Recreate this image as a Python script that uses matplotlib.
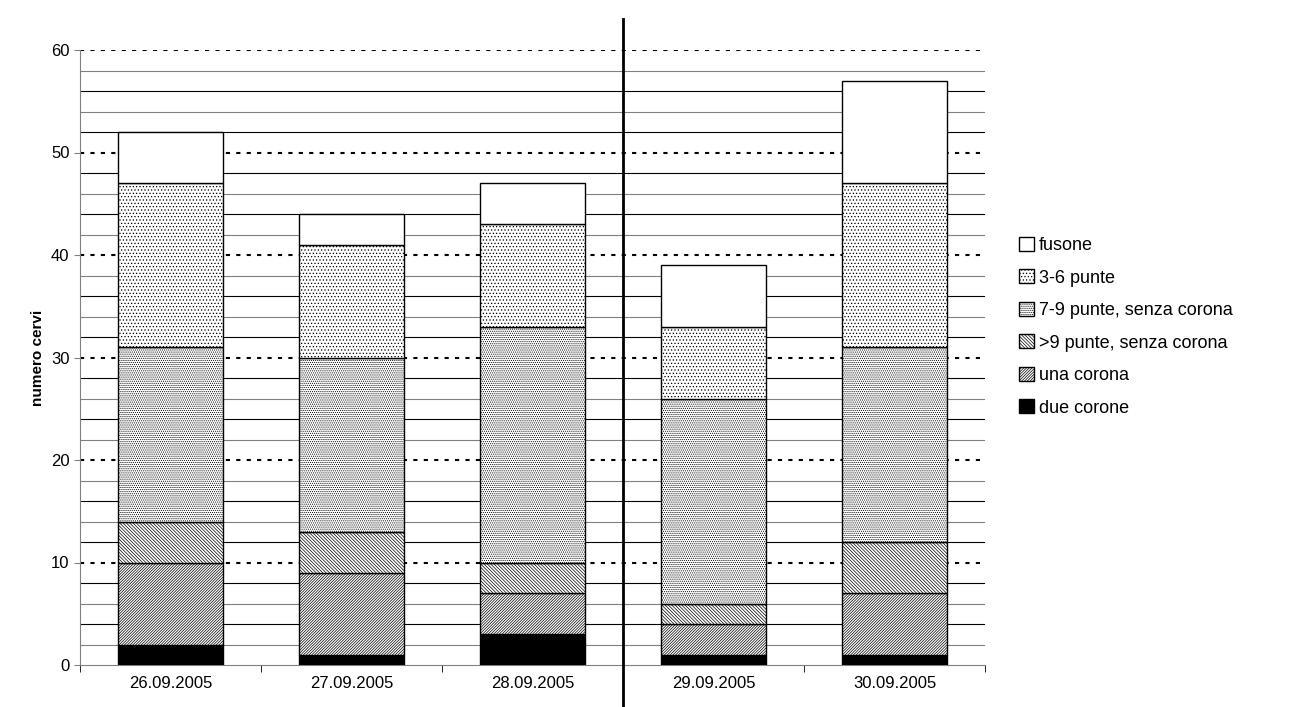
import matplotlib
matplotlib.use("Agg")
import matplotlib.pyplot as plt
import numpy as np

plt.rcParams['font.family'] = ['Liberation Sans', 'DejaVu Sans']
plt.rcParams['hatch.linewidth'] = 0.5

dates = ["26.09.2005", "27.09.2005", "28.09.2005", "29.09.2005", "30.09.2005"]
series_names = ["due corone", "una corona", ">9 punte, senza corona",
                "7-9 punte, senza corona", "3-6 punte", "fusone"]
due_corone = [2, 1, 3, 1, 1]
una_corona = [8, 8, 4, 3, 6]
oltre_9 = [4, 4, 3, 2, 5]
punte_7_9 = [17, 17, 23, 20, 19]
punte_3_6 = [16, 11, 10, 7, 16]
fusone = [5, 3, 4, 6, 10]
values = [due_corone, una_corona, oltre_9, punte_7_9, punte_3_6, fusone]
hatches = [None, '/' * 12, '\\' * 10, '.' * 8, '.' * 5, None]
faces = ['black', 'white', 'white', 'white', 'white', 'white']

fig = plt.figure(figsize=(13.08, 7.07), dpi=100)
ax = fig.add_axes([80/1308, 42/707, 905/1308, 615/707])
x = np.arange(len(dates))
bottom = np.zeros(len(dates))
handles = []
for name, v, h, fc in zip(series_names, values, hatches, faces):
    b = ax.bar(x, v, 0.58, bottom=bottom, color=fc, edgecolor='black',
               hatch=h, linewidth=1.0, label=name, zorder=3)
    handles.append(b)
    bottom += np.array(v)

for yv in range(2, 61, 2):
    if yv % 10 == 0:
        ax.axhline(yv, color='black', lw=1.5, ls=(0, (2, 3)), zorder=1)
    else:
        ax.axhline(yv, color='black' if yv % 4 == 0 else '#808080', lw=0.8, zorder=1)

ax.set_xlim(-0.5, 4.5)
ax.set_ylim(0, 60)
ax.set_yticks(range(0, 61, 10))
ax.set_xticks(x)
ax.set_xticklabels(dates)
ax.tick_params(labelsize=12, length=4, color='#808080')
ax.set_xticks(np.arange(-0.5, 4.6, 1), minor=True)
ax.tick_params(axis='x', which='major', length=0, pad=8)
ax.tick_params(axis='x', which='minor', length=5)
for s in ['top', 'right']:
    ax.spines[s].set_visible(False)
ax.spines['left'].set_color('#808080')
ax.spines['bottom'].set_color('#808080')
ax.set_ylabel("numero cervi", fontsize=11, fontweight='bold')
ax.plot([2.5, 2.5], [-0.07, 1.05], transform=ax.get_xaxis_transform(),
        color='black', lw=2, clip_on=False, zorder=5)

leg = ax.legend(handles[::-1], series_names[::-1], loc='center left',
                bbox_to_anchor=(1.02, 0.55), frameon=False, fontsize=13,
                handlelength=0.8, handleheight=0.8, handletextpad=0.3,
                labelspacing=0.85)
fig.savefig("out.png", dpi=100)
